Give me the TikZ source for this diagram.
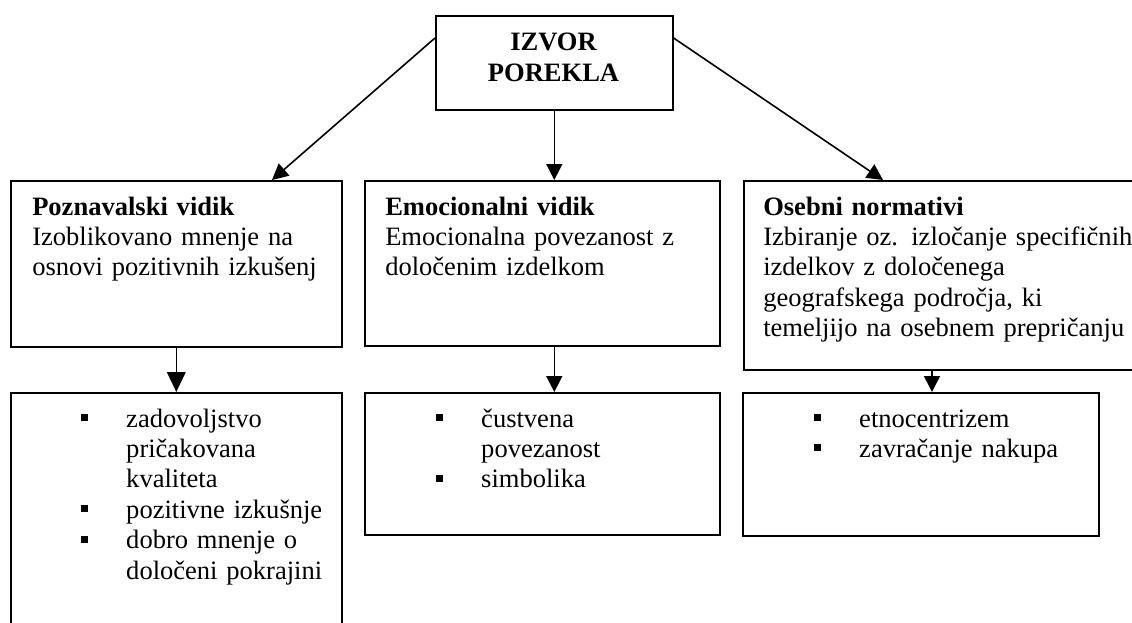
\documentclass[tikz,border=0pt]{standalone}
\usepackage{fontspec}
\setmainfont{Liberation Serif}
\usetikzlibrary{arrows.meta}
\newcommand{\bulitem}[1]{\makebox[34.1pt][l]{\rule[4.5pt]{5.25pt}{5.25pt}}#1}
\newcommand{\bulcont}[1]{\hspace*{34.1pt}#1}
\tikzset{
  box/.style={draw, line width=1.2pt, inner sep=0pt, anchor=north west},
  txt/.style={inner sep=0pt, anchor=base west, text width=280pt, align=left,
    font=\fontsize{19.9pt}{22.8pt}\selectfont},
  arr/.style={line width=1.2pt, -{Triangle[length=12pt,width=12pt]}},
  bigarr/.style={line width=1.2pt, -{Triangle[length=15pt,width=14pt]}}
}
\begin{document}
\begin{tikzpicture}[x=0.75pt,y=-0.75pt]
\useasboundingbox (0,0) rectangle (1132,622);
\clip (0,0) rectangle (1132,622);
% boxes
\node[box, minimum width=177.75pt, minimum height=70.5pt] (top) at (435,15) {};
\node[box, minimum width=248.25pt, minimum height=124.5pt] (ml) at (10,180) {};
\node[box, minimum width=266.25pt, minimum height=123.75pt] (mm) at (364,180) {};
\node[box, minimum width=300pt, minimum height=141.75pt] (mr) at (743,180) {};
\node[box, minimum width=248.25pt, minimum height=187.5pt] (bl) at (10,392) {};
\node[box, minimum width=266.25pt, minimum height=106.5pt] (bm) at (364,392) {};
\node[box, minimum width=267pt, minimum height=107.25pt] (br) at (742,392) {};
% texts
\node[inner sep=0pt, anchor=base, text width=200pt, align=center,
  font=\fontsize{19.9pt}{23.6pt}\selectfont\bfseries] (toptxt) at (553.5,50) {IZVOR\\POREKLA};
\node[txt] (mltxt) at (32,215) {\textbf{Poznavalski vidik}\\Izoblikovano mnenje na\\osnovi pozitivnih izkušenj};
\node[txt] (mmtxt) at (385,215) {\textbf{Emocionalni vidik}\\Emocionalna povezanost z\\določenim izdelkom};
\node[txt] (mrtxt) at (763,215) {\textbf{Osebni normativi}\\Izbiranje oz. izločanje specifičnih\\izdelkov z določenega\\geografskega področja, ki\\temeljijo na osebnem prepričanju};
\node[txt] (bltxt) at (80.5,427) {\bulitem{zadovoljstvo}\\\bulcont{pričakovana}\\\bulcont{kvaliteta}\\\bulitem{pozitivne izkušnje}\\\bulitem{dobro mnenje o}\\\bulcont{določeni pokrajini}};
\node[txt] (bmtxt) at (435.5,427) {\bulitem{čustvena}\\\bulcont{povezanost}\\\bulitem{simbolika}};
\node[txt] (brtxt) at (813.5,427) {\bulitem{etnocentrizem}\\\bulitem{zavračanje nakupa}};
% connectors
\coordinate (c3) at ([xshift=141.75pt]mr.south west);
\draw[arr] ([yshift=-17.25pt]top.north west) -- ([xshift=196.5pt]ml.north west);
\draw[arr] ([yshift=-17.25pt]top.north east) -- ([xshift=105pt]mr.north west);
\draw[arr] (top.south) -- (top.south |- mm.north);
\draw[bigarr] (ml.south) -- (bl.north);
\draw[arr] (top.south |- mm.south) -- (top.south |- bm.north);
\draw[arr] (c3) -- (c3 |- br.north);
\end{tikzpicture}
\end{document}
